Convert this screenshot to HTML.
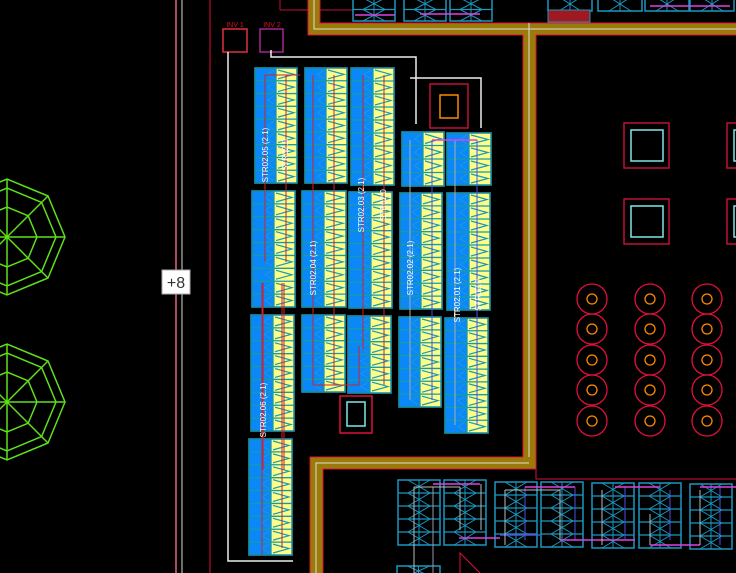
<!DOCTYPE html>
<html><head><meta charset="utf-8"><style>
html,body{margin:0;padding:0;background:#000;width:736px;height:573px;overflow:hidden}
svg{display:block}
text{font-family:"Liberation Sans",sans-serif}
</style></head><body>
<svg id="s" width="736" height="573" viewBox="0 0 736 573" xmlns="http://www.w3.org/2000/svg">
<rect width="736" height="573" fill="#000"/>
<!-- vertical lines left -->
<line x1="176" y1="0" x2="176" y2="573" stroke="#e8607a" stroke-width="1.5"/>
<line x1="182" y1="0" x2="182" y2="573" stroke="#ddd" stroke-width="1"/>
<line x1="210" y1="0" x2="210" y2="573" stroke="#e0103a" stroke-width="1"/>
<rect x="162" y="270" width="28" height="24" fill="#fff" stroke="#aaa"/>
<text x="176" y="288" font-size="16" fill="#333" text-anchor="middle">+8</text>
<!-- INV boxes -->
<text x="235" y="27" font-size="7" fill="#e01020" text-anchor="middle">INV 1</text>
<text x="272" y="27" font-size="7" fill="#e01020" text-anchor="middle">INV 2</text>
<rect x="223" y="29" width="24" height="23" fill="none" stroke="#e03040" stroke-width="1.5"/>
<rect x="260" y="29" width="23" height="23" fill="none" stroke="#a02890" stroke-width="1.5"/>
<polyline points="228,52 228,561 293,561" fill="none" stroke="#eee" stroke-width="1.5"/>
<polyline points="271,50 271,57 416,57 416,124" fill="none" stroke="#eee" stroke-width="1.5"/>
<polyline points="410,78 481,78 481,128" fill="none" stroke="#eee" stroke-width="1.5"/>
<line x1="280" y1="0" x2="280" y2="10" stroke="#c0103a"/>
<line x1="280" y1="10" x2="353" y2="10" stroke="#c0103a"/>
<line x1="300" y1="10" x2="320" y2="10" stroke="#e0103a"/>
<g id="dyn"></g>
<!-- roads -->
<g>
<rect x="308" y="0" width="12" height="35" fill="#9a7a08"/>
<rect x="308" y="23" width="428" height="12" fill="#9a7a08"/>
<rect x="523" y="23" width="13" height="444" fill="#9a7a08"/>
<polyline points="308,0 308,35 523,35" fill="none" stroke="#e0103a"/>
<polyline points="320,0 320,23 736,23" fill="none" stroke="#e0103a"/>
<line x1="536" y1="35" x2="736" y2="35" stroke="#e0103a"/>
<polyline points="314,0 314,29 736,29" fill="none" stroke="#ddd" stroke-width="1"/>
<line x1="523" y1="35" x2="523" y2="457" stroke="#e0103a"/>
<line x1="536" y1="35" x2="536" y2="467" stroke="#e0103a"/>
<line x1="529" y1="23" x2="529" y2="463" stroke="#ddd"/>
<rect x="310" y="457" width="226" height="12" fill="#9a7a08"/>
<rect x="310" y="457" width="13" height="116" fill="#9a7a08"/>
<polyline points="310,573 310,457 523,457" fill="none" stroke="#e0103a"/>
<polyline points="323,573 323,469 536,469 536,457" fill="none" stroke="#e0103a"/>
<polyline points="316,573 316,463 529,463" fill="none" stroke="#ddd"/>
<polyline points="536,469 536,479 736,479" fill="none" stroke="#e0103a"/>
<polyline points="460,573 460,553 480,573" fill="none" stroke="#e0103a"/>
</g>
<!-- inverter boxes -->
<rect x="430" y="84" width="38" height="44" fill="none" stroke="#c0103a" stroke-width="1.5"/>
<rect x="440" y="95" width="18" height="23" fill="none" stroke="#ff8800" stroke-width="1.5"/>
<rect x="340" y="396" width="32" height="37" fill="none" stroke="#e0103a" stroke-width="1.5"/>
<rect x="347" y="402" width="18" height="24" fill="none" stroke="#7ee8e8" stroke-width="1.5"/>
<rect x="624" y="123" width="45" height="45" fill="none" stroke="#c0103a" stroke-width="1.5"/>
<rect x="631" y="130" width="32" height="31" fill="none" stroke="#7ee8e8" stroke-width="1.5"/>
<rect x="624" y="199" width="45" height="45" fill="none" stroke="#c0103a" stroke-width="1.5"/>
<rect x="631" y="206" width="32" height="31" fill="none" stroke="#7ee8e8" stroke-width="1.5"/>
<rect x="727" y="123" width="20" height="45" fill="none" stroke="#c0103a" stroke-width="1.5"/>
<rect x="734" y="130" width="10" height="31" fill="none" stroke="#7ee8e8" stroke-width="1.5"/>
<rect x="727" y="199" width="20" height="45" fill="none" stroke="#c0103a" stroke-width="1.5"/>
<rect x="734" y="206" width="10" height="31" fill="none" stroke="#7ee8e8" stroke-width="1.5"/>
</svg>
<script>
(function(){
var NS="http://www.w3.org/2000/svg",g=document.getElementById("dyn");var h="";
function L(x1,y1,x2,y2,c,w){h+='<line x1="'+x1+'" y1="'+y1+'" x2="'+x2+'" y2="'+y2+'" stroke="'+c+'" stroke-width="'+(w||1)+'"/>';}
// octagons
function oct(cx,cy){[58,49,30].forEach(function(r){var p=[];for(var i=0;i<8;i++){var a=i*Math.PI/4;p.push((cx+r*Math.cos(a)).toFixed(1)+','+(cy+r*Math.sin(a)).toFixed(1));}h+='<polygon points="'+p.join(' ')+'" fill="none" stroke="#5ee01a" stroke-width="1.5"/>';});
for(var i=0;i<8;i++){var a=i*Math.PI/4;L(cx,cy,(cx+58*Math.cos(a)).toFixed(1),(cy+58*Math.sin(a)).toFixed(1),"#5ee01a",1.5);}}
oct(7,237);oct(7,402);
// circles
[592,650,707].forEach(function(x){[299,329,360,390,421].forEach(function(y){h+='<circle cx="'+x+'" cy="'+y+'" r="15" fill="none" stroke="#e0103a" stroke-width="1.3"/><circle cx="'+x+'" cy="'+y+'" r="5" fill="none" stroke="#ff8800" stroke-width="1.3"/>';});});
// PV blocks
function blk(x,y,w,H){var n=Math.max(1,Math.round(H/12.8)),rh=H/n,xm=x+Math.round(w*0.5);
h+='<rect x="'+x+'" y="'+y+'" width="'+w+'" height="'+H+'" fill="#0a88f8" stroke="#1a8aa0" stroke-width="1.5"/>';
h+='<rect x="'+xm+'" y="'+y+'" width="'+(x+w-xm)+'" height="'+H+'" fill="#fdfd88"/>';
for(var i=0;i<n;i++){var ry=y+i*rh;
h+='<polyline points="'+(xm+2)+','+(ry+2)+' '+(x+w-3)+','+(ry+rh/2)+' '+(xm+2)+','+(ry+rh-2)+'" fill="none" stroke="#1a9ab8" stroke-width="1.2"/>';
h+='<polyline points="'+(xm-2)+','+(ry+2)+' '+(x+w*0.3)+','+(ry+rh/2)+' '+(xm-2)+','+(ry+rh-2)+'" fill="none" stroke="#2a98d0" stroke-width="0.8"/>';
if(i>0)L(x,ry,x+w,ry,"#1a9aa8",1.3);}
L(xm,y,xm,y+H,"#1a9aa8",1.3);
h+='<rect x="'+x+'" y="'+y+'" width="'+w+'" height="'+H+'" fill="none" stroke="#1a8aa0" stroke-width="1.5"/>';}
var B=[[255,68,42,115],[252,191,43,116],[251,315,43,116],[249,439,43,116],
[305,68,42,115],[302,191,44,116],[302,315,43,77],
[351,68,43,117],[349,192,43,116],[348,316,43,77],
[402,132,42,54],[400,193,42,116],[399,317,42,90],
[447,133,44,52],[447,193,43,117],[445,318,43,115]];
B.forEach(function(b){blk(b[0],b[1],b[2],b[3]);});
// string wires
var R="#d02030";
L(265,75,265,262,R);L(286,75,286,262,R);L(265,75,300,75,R);
L(263,283,263,470,R);L(284,283,284,470,R);L(262,283,262,555,R);L(282,283,282,548,R);
L(313,75,313,385,R);L(334,75,334,258,R);L(313,385,359,385,R);L(334,258,334,385,R);
L(363,75,363,350,R);L(384,75,384,385,R);L(359,346,359,385,R);
L(410,140,410,400,"#aaa");L(432,140,432,400,"#5050e0");
L(455,140,455,425,"#aaa");L(477,140,477,425,"#5050e0");L(432,140,477,140,"#e040e0",1.5);
// labels
function vt(x,y,t){h+='<text x="'+x+'" y="'+y+'" font-size="8" fill="#fff" transform="rotate(-90 '+x+' '+y+')" text-anchor="middle">'+t+'</text>';}
vt(268,155,"STR02.05 (2.1)");vt(266,410,"STR02.06 (2.1)");vt(316,268,"STR02.04 (2.1)");vt(364,205,"STR02.03 (2.1)");vt(413,268,"STR02.02 (2.1)");vt(460,295,"STR02.01 (2.1)");
vt(288,155,"STR02.0");vt(386,205,"STR02.0");vt(481,295,"STR02.0");
// cyan modules
function mod(x,y,w,H){var n=Math.round(H/13),rh=H/n,c="#1a98c0";
h+='<rect x="'+x+'" y="'+y+'" width="'+w+'" height="'+H+'" fill="none" stroke="'+c+'" stroke-width="1.5"/>';
for(var i=1;i<n;i++)L(x,y+i*rh,x+w,y+i*rh,c,1.3);L(x+w/2,y,x+w/2,y+H,c,1);
for(var i=0;i<n;i++){var ry=y+i*rh;L(x+w/2-11,ry,x+w/2+11,ry+rh,c,1);L(x+w/2+11,ry,x+w/2-11,ry+rh,c,1);}}
[[398,480],[444,480],[495,482],[541,482],[592,483],[639,483],[690,484]].forEach(function(m){mod(m[0],m[1],42,65);});
mod(397,566,43,20);
[[353,-2],[404,-2],[450,-2]].forEach(function(m){mod(m[0],m[1],42,23);});
[[548,-3],[598,-3],[645,-3],[690,-3]].forEach(function(m){mod(m[0],m[1],44,14);});
h+='<rect x="548" y="10" width="42" height="12" fill="#a01820" stroke="#1a98c0"/>';
// bottom module wiring
L(414,487,414,573,"#bbb");L(433,487,433,573,"#99a");L(414,487,460,487,"#bbb");
L(433,484,480,484,"#e040e0",1.5);L(460,487,460,530,"#bbb");L(481,484,481,530,"#bbb");
L(459,538,500,538,"#e040e0",1.5);L(500,535,540,535,"#5050e0",1.5);
L(505,490,505,545,"#bbb");L(525,487,525,540,"#5050e0");L(505,490,560,490,"#bbb");
L(525,487,575,487,"#e040e0",1.5);L(560,490,560,540,"#bbb");L(575,487,575,540,"#5050e0");
L(560,540,635,540,"#e040e0",1.5);L(602,490,602,545,"#bbb");L(625,487,625,540,"#5050e0");
L(615,487,660,487,"#e040e0",1.5);L(650,514,650,545,"#bbb");L(670,490,670,540,"#5050e0");
L(650,545,700,545,"#e040e0",1.5);L(700,490,700,545,"#bbb");L(720,487,720,545,"#5050e0");L(700,487,736,487,"#e040e0",1.5);
L(355,15,395,15,"#e040e0",1.5);L(420,14,480,14,"#e040e0",1.5);L(650,6,730,6,"#e040e0",1.5);
g.innerHTML=h;})();
</script>
</body></html>
